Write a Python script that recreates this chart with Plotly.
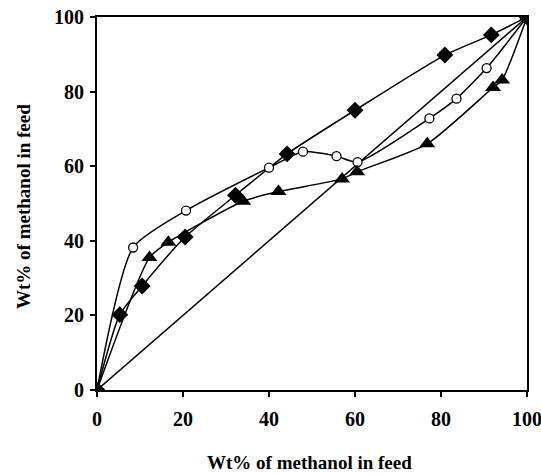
import plotly.graph_objects as go

# Wt% of methanol in feed (x) vs. wt% of methanol in permeate (y)
diamond_x = [0, 5.3, 10.5, 20.5, 32.2, 44.2, 60.0, 80.9, 91.7, 100]
diamond_y = [0, 20.2, 27.9, 41.0, 52.2, 63.3, 75.0, 89.8, 95.2, 100]

circle_x = [0, 8.4, 20.7, 40.0, 47.9, 55.7, 60.6, 77.3, 83.6, 90.6, 100]
circle_y = [0, 38.2, 48.1, 59.6, 63.9, 62.7, 61.1, 72.8, 78.1, 86.3, 100]

triangle_x = [0, 12.2, 16.6, 34.0, 42.2, 57.0, 60.5, 76.8, 92.1, 94.2, 100]
triangle_y = [0, 35.5, 39.6, 50.6, 53.2, 56.6, 58.5, 66.0, 81.1, 83.1, 100]

diag_x = [0, 100]
diag_y = [0, 100]

x_ticks = [0, 20, 40, 60, 80, 100]
y_ticks = [0, 20, 40, 60, 80, 100]

FONT = "Liberation Serif"

fig = go.Figure()

fig.add_trace(go.Scatter(
    x=diag_x, y=diag_y, mode="lines",
    line=dict(color="black", width=1.5), showlegend=False,
))
fig.add_trace(go.Scatter(
    x=diamond_x, y=diamond_y, mode="lines+markers",
    line=dict(color="black", width=1.5, shape="spline", smoothing=0.6),
    marker=dict(symbol="diamond", size=13, color="black"),
    showlegend=False,
))
fig.add_trace(go.Scatter(
    x=circle_x, y=circle_y, mode="lines+markers",
    line=dict(color="black", width=1.5, shape="spline", smoothing=0.6),
    marker=dict(symbol="circle", size=9, color="white",
                line=dict(color="black", width=1.3)),
    showlegend=False,
))
fig.add_trace(go.Scatter(
    x=triangle_x, y=triangle_y, mode="lines+markers",
    line=dict(color="black", width=1.5, shape="spline", smoothing=0.6),
    marker=dict(symbol="triangle-up", size=14, color="black"),
    showlegend=False,
))

axis_common = dict(
    showgrid=False, zeroline=False, automargin=False,
    ticklabeloverflow="allow",
    showline=True, linecolor="black", linewidth=2, mirror=True,
    ticks="outside", ticklen=5, tickwidth=1.5, tickcolor="black",
    tickfont=dict(family=FONT, size=20, color="black"),
)

fig.update_xaxes(range=[0, 100], tickvals=x_ticks, ticklabelstandoff=5,
                 ticktext=[f"<b>{v}</b>" for v in x_ticks], **axis_common)
fig.update_yaxes(range=[0, 100], tickvals=y_ticks, ticklabelstandoff=2,
                 ticktext=[f"<b>{v}</b>" for v in y_ticks], **axis_common)

fig.add_annotation(
    text="<b>Wt% of methanol in feed</b>", xref="paper", yref="paper",
    x=(309.5 - 97) / 430, y=(390 - 463) / 373,
    yanchor="middle", xanchor="center", showarrow=False,
    font=dict(family=FONT, size=19, color="black"),
)
fig.add_annotation(
    text="<b>Wt% of methanol in feed</b>", xref="paper", yref="paper",
    x=(23 - 97) / 430, y=(390 - 207) / 373,
    xanchor="center", yanchor="middle", textangle=-90,
    showarrow=False, font=dict(family=FONT, size=19, color="black"),
)

fig.update_layout(
    width=541, height=476,
    margin=dict(l=97, r=14, t=17, b=86),
    paper_bgcolor="white", plot_bgcolor="white",
)

fig.write_html("out.html")
